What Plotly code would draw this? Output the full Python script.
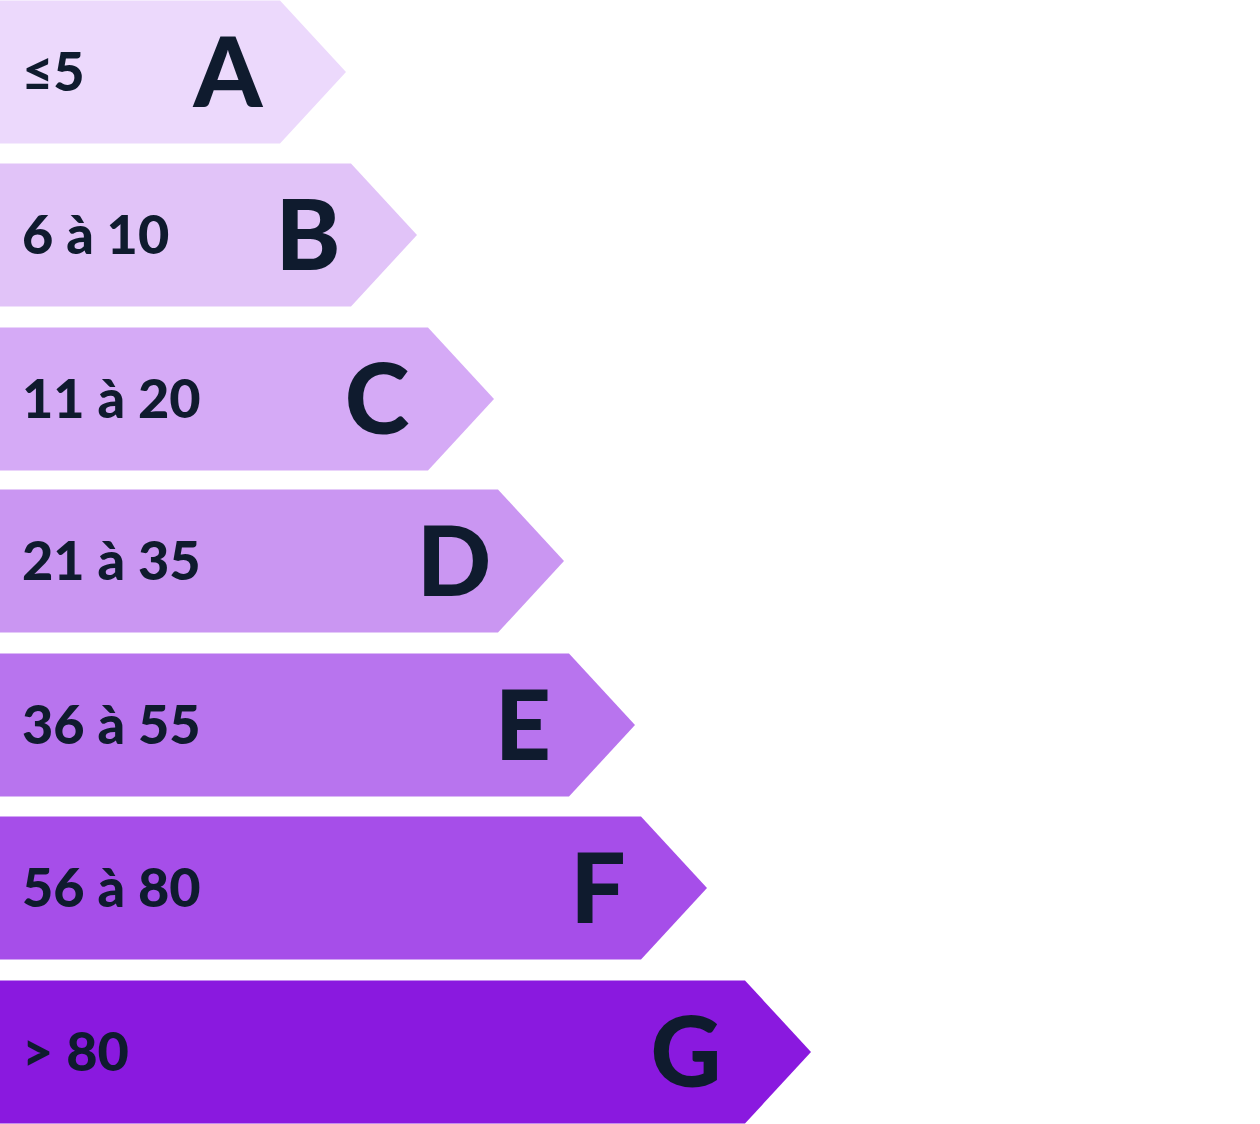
import plotly.graph_objects as go

# Data
classes = ["A", "B", "C", "D", "E", "F", "G"]
ranges = ["≤5", "6 à 10", "11 à 20", "21 à 35", "36 à 55", "56 à 80", "> 80"]
lengths = [280, 351, 428, 498, 569, 641, 745]          # body length of each arrow
centers = [72, 235, 399, 561, 725, 888, 1052]          # vertical centre of each arrow
colors = ["#ecd9fc", "#e1c3f8", "#d5aaf6", "#ca96f2", "#b874ee", "#a64ee9", "#8a19df"]

# styling
BAR_H = 143
TIP = 66
TEXT_COLOR = "#0f1b2e"
letter_shift = [-52, -43, -51, -44, -46, -43, -59]   # letter placement inside arrow
LETTER_DY = 10
RANGE_DY = 5

fig = go.Figure()
for cls, rng, w, c, col, dx in zip(classes, ranges, lengths, centers, colors, letter_shift):
    top, bot = c - BAR_H / 2, c + BAR_H / 2
    fig.add_trace(go.Scatter(
        x=[0, w, w + TIP, w, 0, 0],
        y=[top, top, c, bot, bot, top],
        fill="toself", fillcolor=col, mode="lines",
        line=dict(width=0, color=col), hoverinfo="skip", showlegend=False,
    ))
    fig.add_trace(go.Scatter(
        x=[22], y=[c + RANGE_DY], mode="text", text=[rng],
        textposition="middle right",
        textfont=dict(family="Lato", size=54, color=TEXT_COLOR, weight=900),
        hoverinfo="skip", showlegend=False,
    ))
    fig.add_trace(go.Scatter(
        x=[w + dx], y=[c + LETTER_DY], mode="text", text=[cls],
        textposition="middle center",
        textfont=dict(family="Lato", size=98, color=TEXT_COLOR, weight=900),
        hoverinfo="skip", showlegend=False,
    ))

fig.update_layout(
    width=1260, height=1124,
    margin=dict(l=0, r=0, t=0, b=0),
    paper_bgcolor="white", plot_bgcolor="white",
    xaxis=dict(range=[0, 1260], visible=False, fixedrange=True),
    yaxis=dict(range=[1124, 0], visible=False, fixedrange=True),
)

fig.write_html("out.html", config={"displayModeBar": False},
               post_script="document.body.style.margin='0';")
